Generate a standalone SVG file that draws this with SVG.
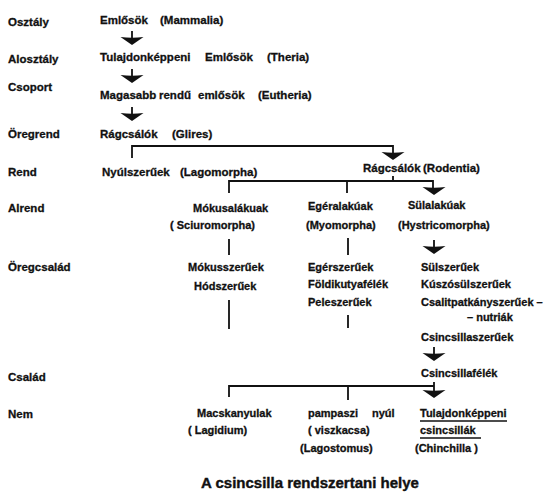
<svg xmlns="http://www.w3.org/2000/svg" width="550" height="496" viewBox="0 0 550 496">
<style>
text{font-family:"Liberation Sans",Arial,sans-serif;font-weight:bold;fill:#111;stroke:#111;stroke-width:0.3}
.lab{font-size:11.5px}
.t{font-size:11.5px}
.s{font-size:11px}
.title{font-size:15px;stroke-width:0.4}
.ln{stroke:#111;stroke-width:1.8;fill:none}
.ul{stroke:#111;stroke-width:1.4}
</style>
<defs>
<path id="ah" d="M-11.5,0 Q0,1.5 11.5,0 L0,8 Z" fill="#111"/>
</defs>
<rect width="550" height="496" fill="#fff"/>
<g id="rank-labels">
<text class="lab" x="8" y="26">Osztály</text>
<text class="lab" x="8" y="63">Alosztály</text>
<text class="lab" x="8" y="91">Csoport</text>
<text class="lab" x="8" y="138">Öregrend</text>
<text class="lab" x="8" y="176">Rend</text>
<text class="lab" x="8" y="212">Alrend</text>
<text class="lab" x="8" y="271">Öregcsalád</text>
<text class="lab" x="8" y="381">Család</text>
<text class="lab" x="8" y="418">Nem</text>
</g>
<g id="n-mammalia"><text class="t" y="24"><tspan x="100">Emlősök</tspan><tspan x="160">(Mammalia)</tspan></text></g>
<g id="n-theria"><text class="t" y="61"><tspan x="100">Tulajdonképpeni</tspan><tspan x="205">Emlősök</tspan><tspan x="267">(Theria)</tspan></text></g>
<g id="n-eutheria"><text class="t" y="99"><tspan x="100">Magasabb</tspan><tspan x="159">rendű</tspan><tspan x="198">emlősök</tspan><tspan x="258">(Eutheria)</tspan></text></g>
<g id="n-glires"><text class="t" y="138"><tspan x="100">Rágcsálók</tspan><tspan x="172">(Glires)</tspan></text></g>
<g id="n-lagomorpha"><text class="t" y="176"><tspan x="102">Nyúlszerűek</tspan><tspan x="180">(Lagomorpha)</tspan></text></g>
<g id="n-rodentia"><text class="t" y="172"><tspan x="363">Rágcsálók</tspan><tspan x="423">(Rodentia)</tspan></text></g>
<g id="n-sciuromorpha"><text class="s" x="193" y="212">Mókusalákuak</text><text class="s" x="170" y="229">( Sciuromorpha)</text></g>
<g id="n-myomorpha"><text class="s" x="308" y="210">Egéralakúak</text><text class="s" x="306" y="229">(Myomorpha)</text></g>
<g id="n-hystricomorpha"><text class="s" x="408" y="209">Sülalakúak</text><text class="s" x="398" y="229">(Hystricomorpha)</text></g>
<g id="n-sciur-fam"><text class="s" x="188" y="271">Mókusszerűek</text><text class="s" x="194" y="290">Hódszerűek</text></g>
<g id="n-myo-fam"><text class="s" x="308" y="271">Egérszerűek</text><text class="s" x="308" y="288">Földikutyafélék</text><text class="s" x="308" y="306">Peleszerűek</text></g>
<g id="n-hystr-fam"><text class="s" x="421" y="271">Sülszerűek</text><text class="s" x="421" y="288">Kúszósülszerűek</text><text class="s" x="421" y="306">Csalitpatkányszerűek –</text><text class="s" x="467" y="321">– nutriák</text><text class="s" x="421" y="341">Csincsillaszerűek</text></g>
<g id="n-chinchillidae"><text class="s" x="421" y="377">Csincsillafélék</text></g>
<g id="n-lagidium"><text class="s" x="197" y="417">Macskanyulak</text><text class="s" x="188" y="434">( Lagidium)</text></g>
<g id="n-lagostomus"><text class="s" y="417"><tspan x="308">pampaszi</tspan><tspan x="372">nyúl</tspan></text><text class="s" x="308" y="434">( viszkacsa)</text><text class="s" x="300" y="452">(Lagostomus)</text></g>
<g id="n-chinchilla"><text class="s" x="420" y="417">Tulajdonképpeni</text><text class="s" x="420" y="434">csincsillák</text><text class="s" x="415" y="452">(Chinchilla )</text><line class="ul" x1="420" y1="421" x2="507" y2="421"/><line class="ul" x1="420" y1="438" x2="481" y2="438"/></g>
<g id="caption"><text class="title" x="201" y="488">A csincsilla rendszertani helye</text></g>
<g id="connectors">
<path class="ln" d="M132,31V39M132,69V76M132,107V114"/>
<use href="#ah" x="132" y="37"/>
<use href="#ah" x="132" y="75"/>
<use href="#ah" x="132" y="113"/>
<path class="ln" d="M132,158V146H393V153"/>
<use href="#ah" x="393" y="152"/>
<path class="ln" d="M393,176V181M229,193V181H433V188M347,181V193"/>
<use href="#ah" x="434" y="187"/>
<path class="ln" d="M229,239V255M348,238V255M434,240V247"/>
<use href="#ah" x="434" y="246"/>
<path class="ln" d="M229,300V329M348,315V328M434,347V354"/>
<use href="#ah" x="434" y="353"/>
<path class="ln" d="M434,382V386H229V397M348,386V400M434,386V391"/>
<use href="#ah" x="434" y="390"/>
</g>
</svg>
